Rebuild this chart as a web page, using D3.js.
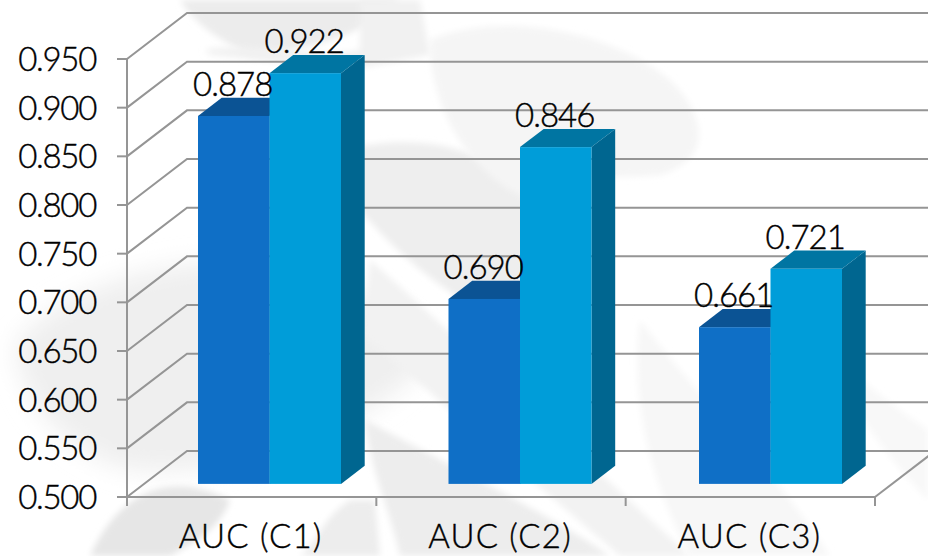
<!DOCTYPE html>
<html>
<head>
<meta charset="utf-8">
<script src="https://cdn.jsdelivr.net/npm/d3@7"></script>
<style>
html,body{margin:0;padding:0;background:#fff;}
svg{display:block;}
text{font-family:"Lato","Open Sans",sans-serif;font-weight:300;fill:#000;stroke:#000;stroke-width:0.4px;}
</style>
</head>
<body>
<svg id="chart" width="928" height="556"></svg>
<script>
const categories = ["AUC (C1)", "AUC (C2)", "AUC (C3)"];
const seriesA = [0.878, 0.690, 0.661];
const seriesB = [0.922, 0.846, 0.721];
const yTicks = [0.5, 0.55, 0.6, 0.65, 0.7, 0.75, 0.8, 0.85, 0.9, 0.95];

const svg = d3.select("#chart");

// Plot frame: front plane of the axis box and the shift to its back wall
const plotLeft = 127, plotRight = 875, plotTop = 59, plotBottom = 497;
const wallDx = 60, wallDy = -46;
// Bars stand inside the box, between these fractions of its depth
const nearDepth = 0.285, farDepth = 0.68;

const y = d3.scaleLinear().domain([0.5, 0.95]).range([plotBottom, plotTop]);
const x = d3.scaleBand().domain(categories).range([plotLeft, plotRight]);
// Bar clusters sit on a slightly wider pitch because they lie deeper in the box
const barX = d3.scaleBand().domain(categories).range([198, 198 + 3 * 250.5]);

// Soft grey backdrop figure
const defs = svg.append("defs");
const addBlur = (id, dev) => defs.append("filter").attr("id", id)
  .attr("x", "-20%").attr("y", "-20%").attr("width", "140%").attr("height", "140%")
  .append("feGaussianBlur").attr("stdDeviation", dev);
addBlur("soft", 3);
addBlur("softer", 12);

const wash = [
  // torso haze on the left
  ["M15,345 C50,300 120,270 210,262 C300,255 380,300 440,350 C370,430 250,480 130,470 C60,450 20,400 15,345 Z", "#efefef", "softer"],
  // shoulder and arm band behind the first two clusters
  ["M345,150 C420,130 500,150 530,200 L520,330 C470,310 410,270 360,210 Z", "#eeeeee", "soft"],
  // rippled sleeve behind the second cluster
  ["M430,40 C500,10 610,30 670,80 C710,120 710,160 660,175 C600,180 560,170 530,200 C480,180 430,120 430,40 Z", "#f5f5f5", "soft"],
  // fingers along the top edge
  ["M180,0 L400,0 C370,30 320,50 250,55 C220,40 195,25 180,0 Z", "#ececec", "soft"],
  ["M205,50 C260,40 320,60 360,50 L360,0 L420,0 L430,55 L350,70 L210,55 Z", "#f1f1f1", "soft"],
  // diagonal streaks through the lower middle
  ["M370,260 C450,330 530,410 690,556 L620,556 C520,470 440,400 362,335 Z", "#f2f2f2", "soft"],
  ["M365,420 C440,460 560,520 610,556 L400,556 C390,510 370,470 365,420 Z", "#ededed", "soft"],
  // blurred patch beside the first category label
  ["M90,556 C120,490 170,470 230,500 C220,530 190,545 170,556 Z", "#e6e6e6", "soft"],
  ["M350,500 C320,520 320,540 300,556 L380,556 L375,500 Z", "#ededed", "soft"],
  // pale drift on the right
  ["M640,320 C700,400 760,450 830,556 L690,556 C650,480 630,400 640,320 Z", "#f7f7f7", "soft"],
  ["M830,350 C870,390 900,410 928,430 L928,500 C890,460 850,410 830,350 Z", "#f8f8f8", "soft"]
];
svg.append("g").selectAll("path").data(wash).join("path")
  .attr("d", d => d[0]).attr("fill", d => d[1]).attr("filter", d => `url(#${d[2]})`);

// Gridlines: side wall segment plus back wall segment
const gridColor = "#959595";
const grid = svg.append("g").attr("fill", "none").attr("stroke", gridColor).attr("stroke-width", 2);
grid.selectAll("path.wall").data(yTicks).join("path").attr("class", "wall")
  .attr("d", t => d3.line()([[plotLeft, y(t)], [plotLeft + wallDx, y(t) + wallDy], [928, y(t) + wallDy]]));

// Value axis and its tick marks
grid.append("line").attr("x1", plotLeft).attr("x2", plotLeft).attr("y1", plotTop).attr("y2", plotBottom + 9);
grid.selectAll("line.ytick").data(yTicks).join("line").attr("class", "ytick")
  .attr("x1", plotLeft - 10).attr("x2", plotLeft).attr("y1", y).attr("y2", y);

// Floor: front edge, category ticks, right side edge
grid.append("line").attr("x1", plotLeft).attr("x2", plotRight).attr("y1", plotBottom).attr("y2", plotBottom);
grid.selectAll("line.xtick").data(d3.range(categories.length + 1)).join("line").attr("class", "xtick")
  .attr("x1", i => plotLeft + i * x.step()).attr("x2", i => plotLeft + i * x.step())
  .attr("y1", plotBottom).attr("y2", plotBottom + 9);
grid.append("line").attr("x1", plotRight).attr("y1", plotBottom).attr("x2", plotRight + wallDx).attr("y2", plotBottom + wallDy);

// Value axis labels
svg.append("g").selectAll("text").data(yTicks).join("text")
  .attr("x", 96).attr("y", t => y(t) + 12)
  .attr("text-anchor", "end").attr("font-size", 33).attr("letter-spacing", -1.3)
  .text(d3.format(".3f"));

// Category labels
svg.append("g").selectAll("text").data(categories).join("text")
  .attr("x", d => x(d) + x.step() / 2 - 1).attr("y", 548)
  .attr("text-anchor", "middle").attr("font-size", 33).attr("letter-spacing", 1.2)
  .text(d => d);

// Bars as three-faced prisms
const barW = 71.5;
const nearY = wallDy * nearDepth;
const sideX = wallDx * (farDepth - nearDepth), sideY = wallDy * (farDepth - nearDepth);
const baseY = y(0.5) + nearY;
const bars = categories.flatMap((c, i) => [
  { c, v: seriesA[i], k: 0, front: "#0f6fc6", roof: "#0b5394", side: "#0b5394" },
  { c, v: seriesB[i], k: 1, front: "#009dd9", roof: "#0075a2", side: "#006690" }
]);
// The second series paints over the first one's roof
const barG = svg.append("g");
const pts = a => a.map(p => p.join(",")).join(" ");
bars.sort((a, b) => a.k - b.k).forEach(b => {
  const x0 = barX(b.c) + b.k * barW, x1 = x0 + barW;
  const yt = y(b.v) + nearY;
  const g = barG.append("g");
  g.append("polygon").attr("fill", b.side)
    .attr("points", pts([[x1, yt], [x1 + sideX, yt + sideY], [x1 + sideX, baseY + sideY], [x1, baseY]]));
  g.append("polygon").attr("fill", b.roof)
    .attr("points", pts([[x0, yt], [x1, yt], [x1 + sideX, yt + sideY], [x0 + sideX, yt + sideY]]));
  g.append("rect").attr("fill", b.front)
    .attr("x", x0).attr("y", yt).attr("width", barW).attr("height", baseY - yt);
});

// Value labels sit over the bar tops
svg.append("g").selectAll("text").data(bars).join("text")
  .attr("x", b => barX(b.c) + b.k * barW + barW / 2 - 1)
  .attr("y", b => y(b.v) + nearY - 20)
  .attr("text-anchor", "middle").attr("font-size", 33).attr("letter-spacing", -1)
  .text(b => d3.format(".3f")(b.v));
</script>
</body>
</html>
